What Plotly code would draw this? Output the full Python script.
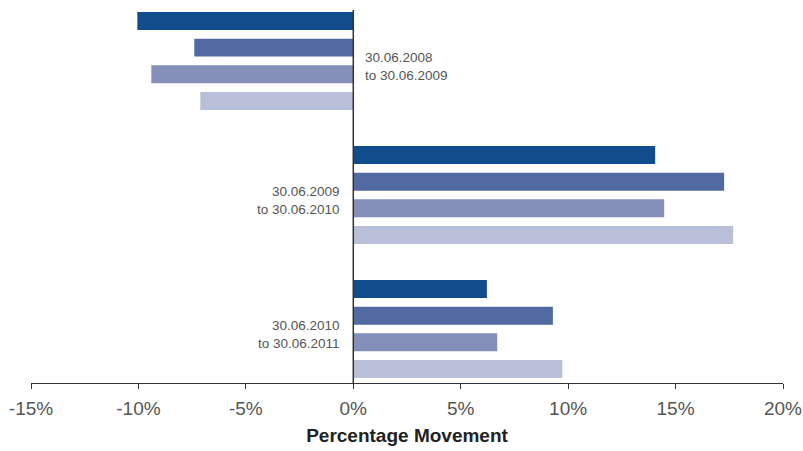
import plotly.graph_objects as go

# Periods (one group of bars each) and the four series values (%)
periods = ["30.06.2008<br>to 30.06.2009",
           "30.06.2009<br>to 30.06.2010",
           "30.06.2010<br>to 30.06.2011"]
series_1 = [-10.05, 14.05, 6.22]
series_2 = [-7.40, 17.26, 9.29]
series_3 = [-9.40, 14.47, 6.70]
series_4 = [-7.12, 17.68, 9.73]
series_names = ["Series 1", "Series 2", "Series 3", "Series 4"]
colors = ["#114C8D", "#526AA2", "#848FBA", "#B9BED9"]

tick_vals = [-15, -10, -5, 0, 5, 10, 15, 20]
tick_text = ["-15%", "-10%", "-5%", "0%", "5%", "10%", "15%", "20%"]

fig = go.Figure()
for name, vals, col in zip(series_names, [series_1, series_2, series_3, series_4], colors):
    fig.add_trace(go.Bar(
        y=list(range(len(periods))), x=vals, orientation="h",
        name=name, marker=dict(color=col, line=dict(width=0)),
        hoverinfo="x+name",
    ))

# Period labels placed beside the zero line, opposite the bars
for i, (lab, v) in enumerate(zip(periods, series_1)):
    right = v < 0
    fig.add_annotation(
        x=0, y=i + 0.04, xref="x", yref="y", text=lab, showarrow=False,
        xanchor="left" if right else "right", align="left" if right else "right",
        xshift=10 if right else -11,
        font=dict(family="Liberation Sans, Arial, sans-serif", size=13.5, color="#555555"),
    )

# Zero line
fig.add_shape(type="line", xref="x", yref="paper", x0=0, x1=0, y0=0, y1=0.974,
              line=dict(color="#333333", width=1.5), layer="above")

fig.update_layout(
    width=803, height=451,
    margin=dict(l=31, r=20, t=0, b=68),
    paper_bgcolor="white", plot_bgcolor="white",
    barmode="group", bargap=0.203, bargroupgap=0.326,
    showlegend=False,
    font=dict(family="Liberation Sans, Arial, sans-serif", color="#333333"),
    xaxis=dict(
        range=[-15, 20], tickvals=tick_vals, ticktext=tick_text,
        showgrid=False, zeroline=False,
        showline=True, linecolor="#333333", linewidth=1,
        ticks="outside", ticklen=5, tickcolor="#333333", tickwidth=1,
        ticklabelstandoff=3,
        tickfont=dict(size=19, color="#555555"),
        title=dict(text="<b>Percentage Movement</b>",
                   font=dict(family="Liberation Sans, Arial", size=19, color="#222222"),
                   standoff=10),
    ),
    yaxis=dict(
        range=[2.403, -0.455], showticklabels=False, showgrid=False,
        zeroline=False, showline=False, ticks="",
    ),
)

fig.write_html("out.html")
